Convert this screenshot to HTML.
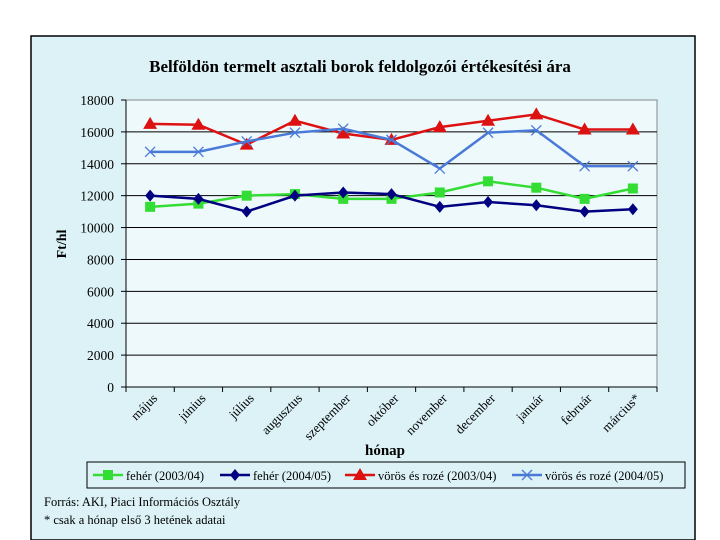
<!DOCTYPE html>
<html><head><meta charset="utf-8"><style>
body{margin:0;background:#fff;}
svg{display:block;font-family:"Liberation Serif",serif;}
</style></head><body>
<svg width="720" height="540">
<rect x="31" y="36" width="664" height="504" fill="#dcf2f6" stroke="#000" stroke-width="1.5"/>
<text x="360" y="72" text-anchor="middle" font-size="17" font-weight="bold">Belföldön termelt asztali borok feldolgozói értékesítési ára</text>
<rect x="126" y="100" width="531" height="287" fill="#eef9fb" stroke="#888"/>
<g id="grid"></g><g id="axes"></g><g id="series"></g>
<text transform="translate(66,244) rotate(-90)" text-anchor="middle" font-size="14" font-weight="bold">Ft/hl</text>
<text x="385" y="455" text-anchor="middle" font-size="15" font-weight="bold">hónap</text>
<rect x="87" y="462" width="598" height="26" fill="#dcf2f6" stroke="#000"/>
<g id="legend"></g>
<text x="44" y="506" font-size="12.5">Forrás: AKI, Piaci Információs Osztály</text>
<text x="44" y="524" font-size="12.5">* csak a hónap első 3 hetének adatai</text>
</svg>
<script>
const categories=["május","június","július","augusztus","szeptember","október","november","december","január","február","március*"];
const feher0304=[11300,11500,12000,12100,11800,11800,12200,12900,12500,11800,12450];
const feher0405=[12000,11800,11000,12000,12200,12100,11300,11600,11400,11000,11150];
const voros0304=[16500,16450,15200,16700,15900,15500,16300,16700,17100,16150,16150];
const voros0405=[14750,14750,15400,15950,16200,15500,13700,15950,16100,13850,13850];
const yTicks=[0,2000,4000,6000,8000,10000,12000,14000,16000,18000];
const seriesNames=["fehér (2003/04)","fehér (2004/05)","vörös és rozé (2003/04)","vörös és rozé (2004/05)"];
const NS="http://www.w3.org/2000/svg";
const L=126,R=657,T=100,B=387,yMax=18000;
const bw=(R-L)/categories.length;
const x=i=>L+bw*(i+0.5);
const y=v=>B-(v/yMax)*(B-T);
function mk(tag,attrs,parent){const e=document.createElementNS(NS,tag);for(const k in attrs)e.setAttribute(k,attrs[k]);parent.appendChild(e);return e;}
const grid=document.getElementById('grid'),axes=document.getElementById('axes'),ser=document.getElementById('series'),leg=document.getElementById('legend');
yTicks.forEach(t=>{
  if(t>0&&t<yMax){const g=mk('line',{x1:L,x2:R,y1:y(t),y2:y(t),stroke:'#000','stroke-width':1},grid);
  
  }
  const tk=mk('line',{x1:L-5,x2:L,y1:y(t),y2:y(t),stroke:'#000'},axes);
  
  
  const lb=mk('text',{x:L-12,y:y(t)+5,'text-anchor':'end','font-size':13.5},axes);
  lb.textContent=t;
  
  
});
const ax=mk('line',{x1:L,x2:L,y1:T,y2:B,stroke:'#000'},axes);


const bx=mk('line',{x1:L,x2:R,y1:B,y2:B,stroke:'#000'},axes);


for(let i=0;i<=categories.length;i++){const t=mk('line',{x1:L+bw*i,x2:L+bw*i,y1:B,y2:B+5,stroke:'#000'},axes);

}
categories.forEach((c,i)=>{
  const lb=mk('text',{transform:`translate(${x(i)+8},${B+12}) rotate(-45)`,'text-anchor':'end','font-size':13},axes);
  lb.textContent=c;
  
  
});
function marker(type,cx,cy,color,p){
  if(type==='sq')return mk('rect',{x:cx-5,y:cy-5,width:10,height:10,fill:color},p);
  if(type==='di')return mk('polygon',{points:`${cx},${cy-6} ${cx+5},${cy} ${cx},${cy+6} ${cx-5},${cy}`,fill:color},p);
  if(type==='tr')return mk('polygon',{points:`${cx},${cy-7} ${cx+7},${cy+5} ${cx-7},${cy+5}`,fill:color},p);
  const g=mk('path',{d:`M${cx-5},${cy-5}L${cx+5},${cy+5}M${cx+5},${cy-5}L${cx-5},${cy+5}`,stroke:color,'stroke-width':1.3,fill:'none'},p);return g;
}
const defs=[[feher0304,'#33dd33','sq','series-feher-2003-04'],[feher0405,'#000080','di','series-feher-2004-05'],[voros0304,'#dd1111','tr','series-voros-2003-04'],[voros0405,'#4a7ad8','x','series-voros-2004-05']];
defs.forEach(([d,col,m,name])=>{
  const g=mk('g',{},ser);
  
  
  const pl=mk('polyline',{points:d.map((v,i)=>x(i)+','+y(v)).join(' '),fill:'none',stroke:col,'stroke-width':2.5},g);
  
  
  d.forEach((v,i)=>{const mm=marker(m,x(i),y(v),col,g);
  
  });
});
const lx=[93,220,345,512];
defs.forEach(([d,col,m],k)=>{
  const g=mk('g',{},leg);
  
  
  mk('line',{x1:lx[k],x2:lx[k]+30,y1:475,y2:475,stroke:col,'stroke-width':2.5},g);
  marker(m,lx[k]+15,475,col,g);
  const t=mk('text',{x:lx[k]+33,y:480,'font-size':12.5},g);
  t.textContent=seriesNames[k];
});
</script>
</body></html>
